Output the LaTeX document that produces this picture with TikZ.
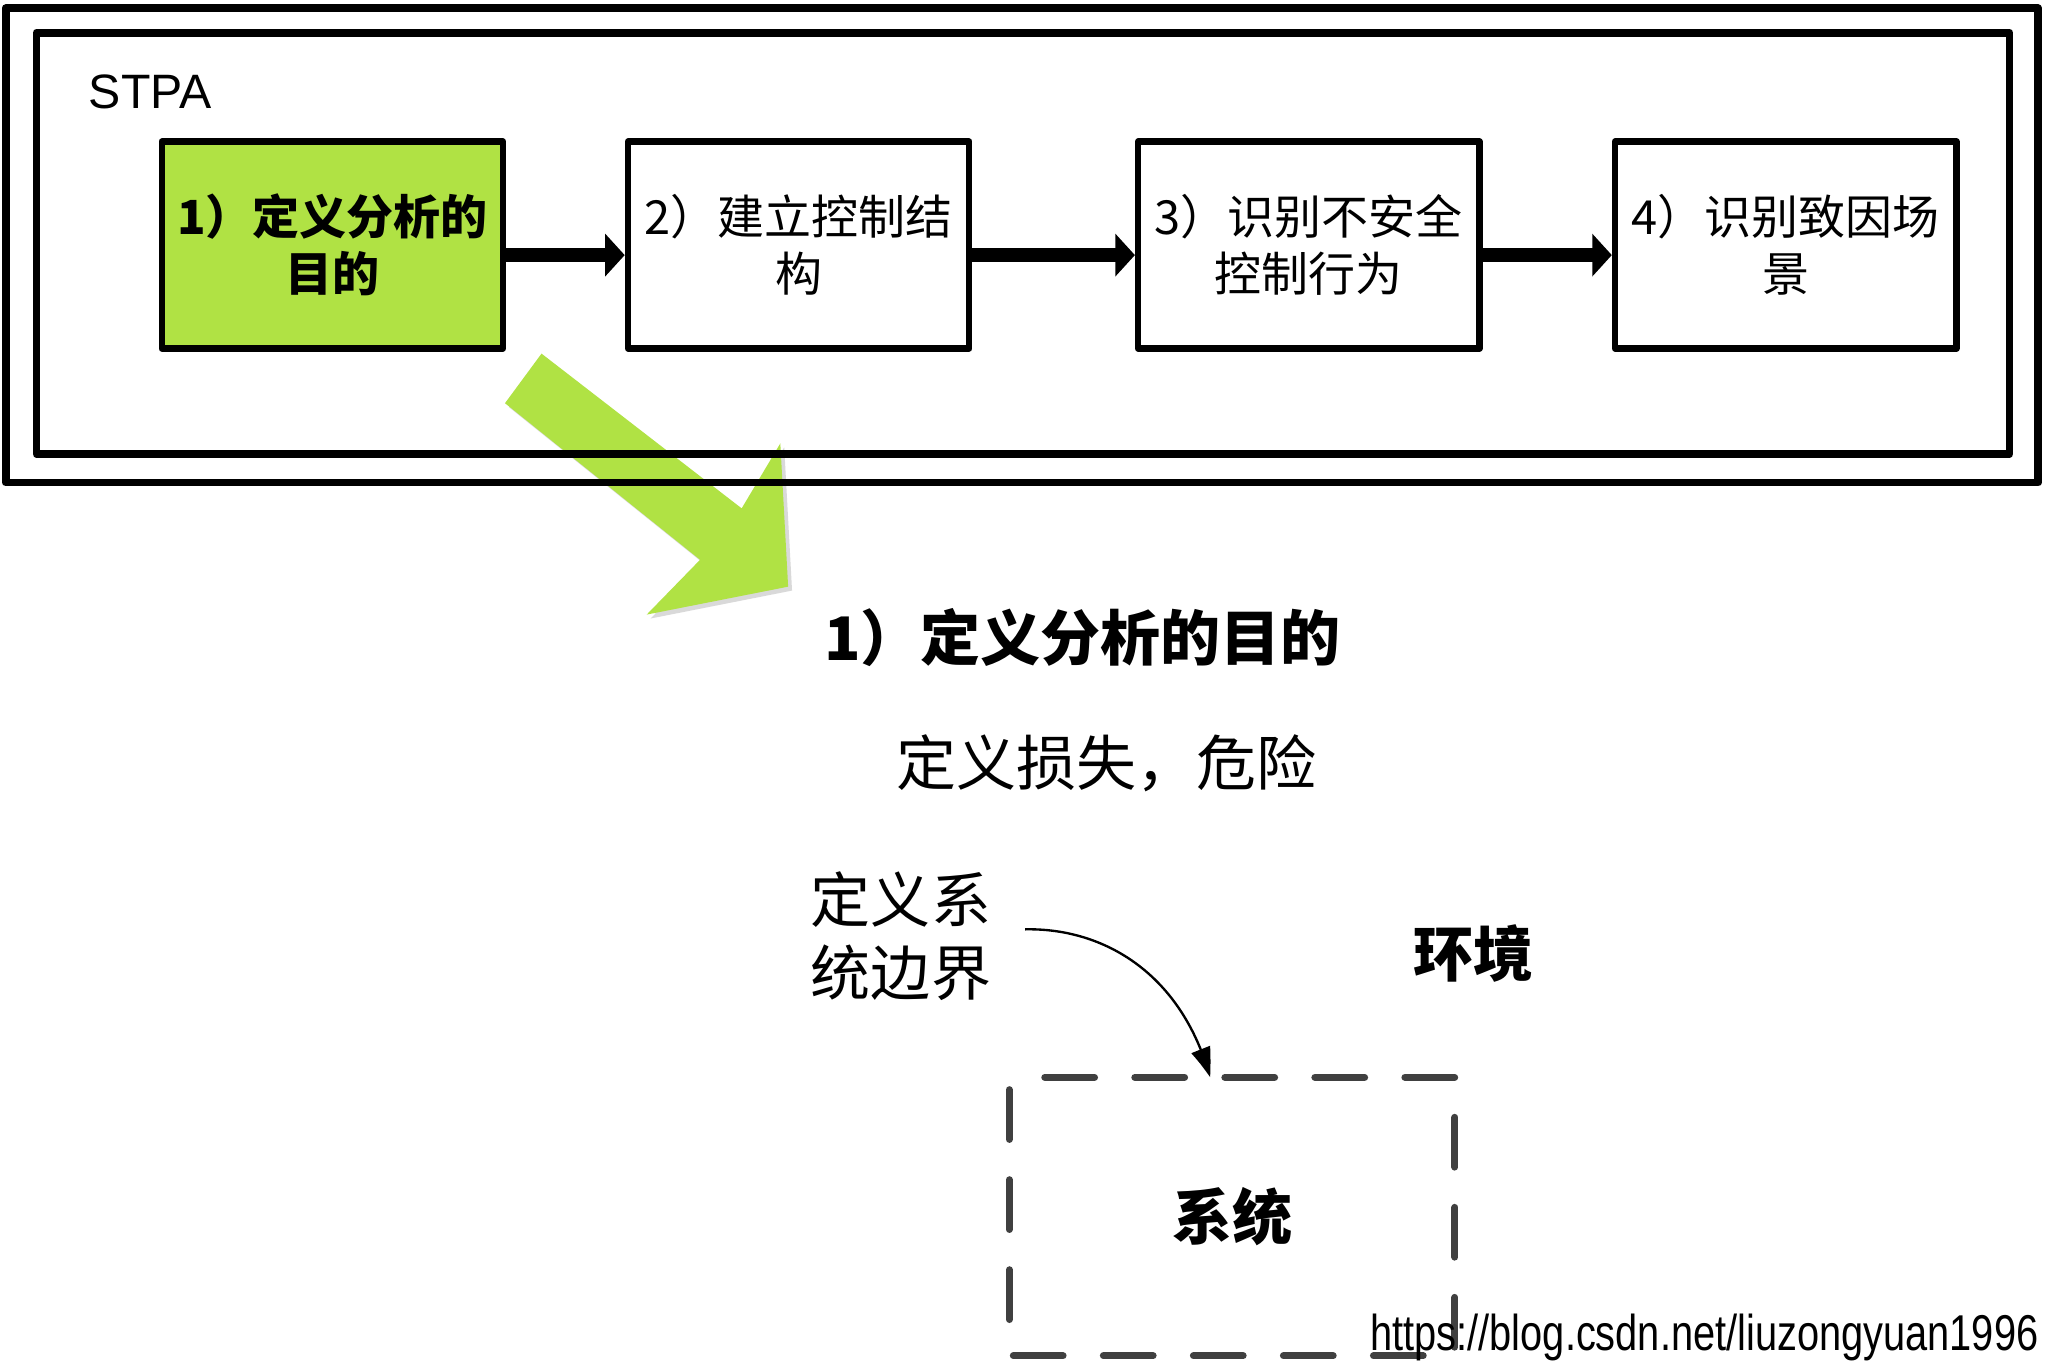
\documentclass[tikz,border=0pt]{standalone}
\usepackage{fontspec}
\setmainfont{Noto Sans CJK SC}
\newfontfamily\latinsans{Liberation Sans}
\newfontfamily\wmfont{Liberation Sans}[FakeStretch=0.79]
\usetikzlibrary{arrows.meta,bending}
\definecolor{stpagreen}{RGB}{176,226,68}
\definecolor{dashgray}{RGB}{64,64,64}
\begin{document}
\begin{tikzpicture}[x=1pt,y=-1pt,
  stepbox/.style={draw=black, line width=5pt, line join=round, minimum width=261.5pt,
    minimum height=158.4pt, inner sep=0pt, align=center, fill=white,
    font=\fontsize{36}{44}\selectfont},
  flowarrow/.style={line width=11pt, -{Triangle[length=15pt,width=32pt]}},
  frame/.style={draw=black, line width=6pt, line join=round},
  bigtext/.style={inner sep=0pt, align=center, font=\fontsize{46}{56}\selectfont},
  bigbold/.style={inner sep=0pt, align=center, font=\fontsize{46}{56}\selectfont\bfseries},
  dashbox/.style={draw=dashgray, line width=5.4pt, line cap=round, line join=round,
    dash pattern=on 38.1pt off 30.9pt, dash phase=41.8pt}]
\useasboundingbox (0,0) rectangle (1568,1045);
\fill[white] (0,0) rectangle (1568,1045);
% big green arrow with faint shadow
\fill[black!15] (418,274) -- (571.4,392.6) -- (601,342.8) -- (607,452.6) -- (498.6,474) -- (539.5,432) -- (390,312) -- cycle;
\fill[stpagreen] (415,271) -- (568.4,389.6) -- (598,339.8) -- (604,449.6) -- (495.6,471) -- (536.5,429) -- (387,309) -- cycle;
% frames
\draw[frame] (4.3,6.4) rectangle (1562,369.8);
\draw[frame] (28,25) rectangle (1540,348);
\node[font=\latinsans\fontsize{37}{40}\selectfont, anchor=base west, inner sep=0pt] (stpa) at (68,83) {STPA};
% steps
\node[stepbox, fill=stpagreen, font=\fontsize{36}{44}\selectfont\bfseries] (s1) at (254.75,187.8) {1）定义分析的\\目的};
\node[stepbox] (s2) at (612,187.8) {2）建立控制结\\构};
\node[stepbox] (s3) at (1003,187.8) {3）识别不安全\\控制行为};
\node[stepbox] (s4) at (1368.5,187.8) {4）识别致因场\\景};
\draw[flowarrow] ([yshift=-7.7pt]s1.east) -- ([yshift=-7.7pt]s2.west);
\draw[flowarrow] ([yshift=-7.7pt]s2.east) -- ([yshift=-7.7pt]s3.west);
\draw[flowarrow] ([yshift=-7.7pt]s3.east) -- ([yshift=-7.7pt]s4.west);
% lower part
\node[bigbold] (title) at (829.5,488.6) {1）定义分析的目的};
\node[bigtext] (loss) at (848,585) {定义损失，危险};
\node[bigtext] (bound) at (690.5,717.2) {定义系\\统边界};
\node[bigbold] (env) at (1129.5,731) {环境};
\node[minimum width=341.5pt, minimum height=213.4pt, inner sep=0pt, outer sep=0pt,
  font=\fontsize{46}{56}\selectfont\bfseries] (sys) at (944.25,932.3) {系统};
\draw[dashbox] (sys.north west) -- (sys.north east) -- (sys.south east) -- (sys.south west) -- cycle;
\coordinate (cstart) at (785.6,712.2);
\draw[line width=1.8pt, -{Triangle[length=23pt,width=15pt,bend]}] (cstart) .. controls (845,711) and (905,745) .. ([xshift=-16.85pt]sys.north);
\node[font=\wmfont\fontsize{38.6}{42}\selectfont, anchor=base west, inner sep=0pt] (wm) at (1050,1034.6) {https://blog.csdn.net/liuzongyuan1996};
\end{tikzpicture}
\end{document}
